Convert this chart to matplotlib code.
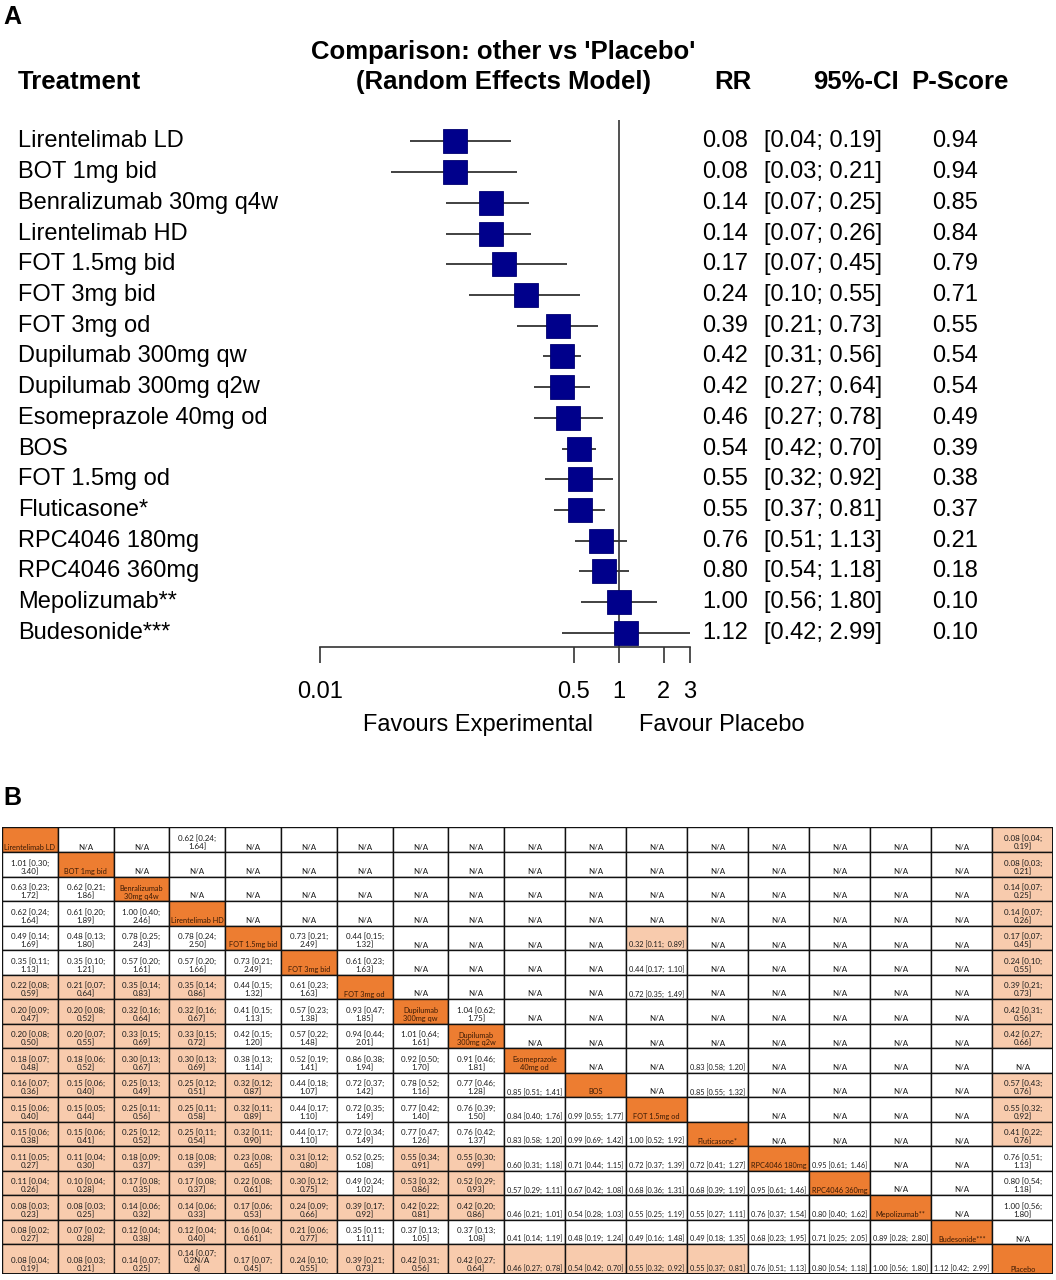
import numpy as np
import matplotlib.pyplot as plt
from matplotlib.patches import Rectangle
from matplotlib.transforms import blended_transform_factory

# ---- Panel A: forest plot vs placebo ----
treatments = ["Lirentelimab LD", "BOT 1mg bid", "Benralizumab 30mg q4w", "Lirentelimab HD",
              "FOT 1.5mg bid", "FOT 3mg bid", "FOT 3mg od", "Dupilumab 300mg qw",
              "Dupilumab 300mg q2w", "Esomeprazole 40mg od", "BOS", "FOT 1.5mg od",
              "Fluticasone*", "RPC4046 180mg", "RPC4046 360mg", "Mepolizumab**", "Budesonide***"]
rr = [0.08, 0.08, 0.14, 0.14, 0.17, 0.24, 0.39, 0.42, 0.42, 0.46, 0.54, 0.55, 0.55, 0.76, 0.80, 1.00, 1.12]
ci_low = [0.04, 0.03, 0.07, 0.07, 0.07, 0.10, 0.21, 0.31, 0.27, 0.27, 0.42, 0.32, 0.37, 0.51, 0.54, 0.56, 0.42]
ci_high = [0.19, 0.21, 0.25, 0.26, 0.45, 0.55, 0.73, 0.56, 0.64, 0.78, 0.70, 0.92, 0.81, 1.13, 1.18, 1.80, 2.99]
pscore = [0.94, 0.94, 0.85, 0.84, 0.79, 0.71, 0.55, 0.54, 0.54, 0.49, 0.39, 0.38, 0.37, 0.21, 0.18, 0.10, 0.10]
axis_ticks = [0.01, 0.5, 1, 2, 3]
axis_labels = ["0.01", "0.5", "1", "2", "3"]

# ---- Panel B: league table ----
diag_labels = ["Lirentelimab LD", "BOT 1mg bid", "Benralizumab\n30mg q4w", "Lirentelimab HD",
               "FOT 1.5mg bid", "FOT 3mg bid", "FOT 3mg od", "Dupilumab\n300mg qw",
               "Dupilumab\n300mg q2w", "Esomeprazole\n40mg od", "BOS", "FOT 1.5mg od",
               "Fluticasone*", "RPC4046 180mg", "RPC4046 360mg", "Mepolizumab**",
               "Budesonide***", "Placebo"]
D = None
N = "N/A"
league = [
    [D, N, N, "0.62 [0.24; 1.64]"] + [N] * 13 + ["0.08 [0.04; 0.19]"],
    ["1.01 [0.30; 3.40]", D] + [N] * 15 + ["0.08 [0.03; 0.21]"],
    ["0.63 [0.23; 1.72]", "0.62 [0.21; 1.86]", D] + [N] * 14 + ["0.14 [0.07; 0.25]"],
    ["0.62 [0.24; 1.64]", "0.61 [0.20; 1.89]", "1.00 [0.40; 2.46]", D] + [N] * 13 + ["0.14 [0.07; 0.26]"],
    ["0.49 [0.14; 1.69]", "0.48 [0.13; 1.80]", "0.78 [0.25; 2.43]", "0.78 [0.24; 2.50]", D,
     "0.73 [0.21; 2.49]", "0.44 [0.15; 1.32]", N, N, N, N, "0.32 [0.11; 0.89]"] + [N] * 5 + ["0.17 [0.07; 0.45]"],
    ["0.35 [0.11; 1.13]", "0.35 [0.10; 1.21]", "0.57 [0.20; 1.61]", "0.57 [0.20; 1.66]", "0.73 [0.21; 2.49]", D,
     "0.61 [0.23; 1.63]", N, N, N, N, "0.44 [0.17; 1.10]"] + [N] * 5 + ["0.24 [0.10; 0.55]"],
    ["0.22 [0.08; 0.59]", "0.21 [0.07; 0.64]", "0.35 [0.14; 0.83]", "0.35 [0.14; 0.86]", "0.44 [0.15; 1.32]",
     "0.61 [0.23; 1.63]", D, N, N, N, N, "0.72 [0.35; 1.49]"] + [N] * 5 + ["0.39 [0.21; 0.73]"],
    ["0.20 [0.09; 0.47]", "0.20 [0.08; 0.52]", "0.32 [0.16; 0.64]", "0.32 [0.16; 0.67]", "0.41 [0.15; 1.13]",
     "0.57 [0.23; 1.38]", "0.93 [0.47; 1.85]", D, "1.04 [0.62; 1.75]"] + [N] * 8 + ["0.42 [0.31; 0.56]"],
    ["0.20 [0.08; 0.50]", "0.20 [0.07; 0.55]", "0.33 [0.15; 0.69]", "0.33 [0.15; 0.72]", "0.42 [0.15; 1.20]",
     "0.57 [0.22; 1.48]", "0.94 [0.44; 2.01]", "1.01 [0.64; 1.61]", D] + [N] * 8 + ["0.42 [0.27; 0.66]"],
    ["0.18 [0.07; 0.48]", "0.18 [0.06; 0.52]", "0.30 [0.13; 0.67]", "0.30 [0.13; 0.69]", "0.38 [0.13; 1.14]",
     "0.52 [0.19; 1.41]", "0.86 [0.38; 1.94]", "0.92 [0.50; 1.70]", "0.91 [0.46; 1.81]", D, N, N,
     "0.83 [0.58; 1.20]", N, N, N, N, N],
    ["0.16 [0.07; 0.36]", "0.15 [0.06; 0.40]", "0.25 [0.13; 0.49]", "0.25 [0.12; 0.51]", "0.32 [0.12; 0.87]",
     "0.44 [0.18; 1.07]", "0.72 [0.37; 1.42]", "0.78 [0.52; 1.16]", "0.77 [0.46; 1.28]", "0.85 [0.51; 1.41]", D, N,
     "0.85 [0.55; 1.32]", N, N, N, N, "0.57 [0.43; 0.76]"],
    ["0.15 [0.06; 0.40]", "0.15 [0.05; 0.44]", "0.25 [0.11; 0.56]", "0.25 [0.11; 0.58]", "0.32 [0.11; 0.89]",
     "0.44 [0.17; 1.10]", "0.72 [0.35; 1.49]", "0.77 [0.42; 1.40]", "0.76 [0.39; 1.50]", "0.84 [0.40; 1.76]",
     "0.99 [0.55; 1.77]", D, "", N, N, N, N, "0.55 [0.32; 0.92]"],
    ["0.15 [0.06; 0.38]", "0.15 [0.06; 0.41]", "0.25 [0.12; 0.52]", "0.25 [0.11; 0.54]", "0.32 [0.11; 0.90]",
     "0.44 [0.17; 1.10]", "0.72 [0.34; 1.49]", "0.77 [0.47; 1.26]", "0.76 [0.42; 1.37]", "0.83 [0.58; 1.20]",
     "0.99 [0.69; 1.42]", "1.00 [0.52; 1.92]", D, N, N, N, N, "0.41 [0.22; 0.76]"],
    ["0.11 [0.05; 0.27]", "0.11 [0.04; 0.30]", "0.18 [0.09; 0.37]", "0.18 [0.08; 0.39]", "0.23 [0.08; 0.65]",
     "0.31 [0.12; 0.80]", "0.52 [0.25; 1.08]", "0.55 [0.34; 0.91]", "0.55 [0.30; 0.99]", "0.60 [0.31; 1.18]",
     "0.71 [0.44; 1.15]", "0.72 [0.37; 1.39]", "0.72 [0.41; 1.27]", D, "0.95 [0.61; 1.46]", N, N, "0.76 [0.51; 1.13]"],
    ["0.11 [0.04; 0.26]", "0.10 [0.04; 0.28]", "0.17 [0.08; 0.35]", "0.17 [0.08; 0.37]", "0.22 [0.08; 0.61]",
     "0.30 [0.12; 0.75]", "0.49 [0.24; 1.02]", "0.53 [0.32; 0.86]", "0.52 [0.29; 0.93]", "0.57 [0.29; 1.11]",
     "0.67 [0.42; 1.08]", "0.68 [0.36; 1.31]", "0.68 [0.39; 1.19]", "0.95 [0.61; 1.46]", D, N, N, "0.80 [0.54; 1.18]"],
    ["0.08 [0.03; 0.23]", "0.08 [0.03; 0.25]", "0.14 [0.06; 0.32]", "0.14 [0.06; 0.33]", "0.17 [0.06; 0.53]",
     "0.24 [0.09; 0.66]", "0.39 [0.17; 0.92]", "0.42 [0.22; 0.81]", "0.42 [0.20; 0.86]", "0.46 [0.21; 1.01]",
     "0.54 [0.28; 1.03]", "0.55 [0.25; 1.19]", "0.55 [0.27; 1.11]", "0.76 [0.37; 1.54]", "0.80 [0.40; 1.62]", D, N,
     "1.00 [0.56; 1.80]"],
    ["0.08 [0.02; 0.27]", "0.07 [0.02; 0.28]", "0.12 [0.04; 0.38]", "0.12 [0.04; 0.40]", "0.16 [0.04; 0.61]",
     "0.21 [0.06; 0.77]", "0.35 [0.11; 1.11]", "0.37 [0.13; 1.05]", "0.37 [0.13; 1.08]", "0.41 [0.14; 1.19]",
     "0.48 [0.19; 1.24]", "0.49 [0.16; 1.48]", "0.49 [0.18; 1.35]", "0.68 [0.23; 1.95]", "0.71 [0.25; 2.05]",
     "0.89 [0.28; 2.80]", D, N],
    ["0.08 [0.04; 0.19]", "0.08 [0.03; 0.21]", "0.14 [0.07; 0.25]", "0.14 [0.07; 0.2N/A\n6]", "0.17 [0.07; 0.45]",
     "0.24 [0.10; 0.55]", "0.39 [0.21; 0.73]", "0.42 [0.31; 0.56]", "0.42 [0.27; 0.64]", "0.46 [0.27; 0.78]",
     "0.54 [0.42; 0.70]", "0.55 [0.32; 0.92]", "0.55 [0.37; 0.81]", "0.76 [0.51; 1.13]", "0.80 [0.54; 1.18]",
     "1.00 [0.56; 1.80]", "1.12 [0.42; 2.99]", D],
]
# significant comparisons (light shading), per row
sig = [[17], [17], [17], [17], [11, 17], [17],
       [0, 1, 2, 3, 17], [0, 1, 2, 3, 17], [0, 1, 2, 3, 17], [0, 1, 2, 3],
       [0, 1, 2, 3, 4, 17], [0, 1, 2, 3, 4, 17], [0, 1, 2, 3, 4, 17],
       [0, 1, 2, 3, 4, 5, 7, 8], [0, 1, 2, 3, 4, 5, 7, 8],
       list(range(9)), list(range(6)), list(range(13))]

W, H = 1056, 1280
fig = plt.figure(figsize=(W / 100, H / 100), dpi=100)
fig.patch.set_facecolor('white')

body = ['Liberation Sans', 'DejaVu Sans']

def fx(px):
    return px / W

def fy(py):
    return 1 - py / H

# ---------- A ----------
fig.text(fx(3), fy(5), "A", family=body, fontweight='bold', fontsize=18, va='top', ha='left')
hdr = dict(family=body, fontweight='bold', fontsize=18.5, va='center')
fig.text(fx(18), fy(82), "Treatment", ha='left', **hdr)
fig.text(fx(503), fy(52), "Comparison: other vs 'Placebo'", ha='center', **hdr)
fig.text(fx(503), fy(82), "(Random Effects Model)", ha='center', **hdr)
fig.text(fx(733), fy(82), "RR", ha='center', **hdr)
fig.text(fx(856), fy(82), "95%-CI", ha='center', **hdr)
fig.text(fx(960), fy(82), "P-Score", ha='center', **hdr)

ax = fig.add_axes([fx(320), fy(647), fx(690) - fx(320), fy(120) - fy(647)])
ax.set_xscale('log')
ax.set_xlim(0.01, 3)
n = len(treatments)
ax.set_ylim(n - 1 + 0.46, -0.7)
ypos = np.arange(n)
ax.axvline(1, color='#333333', lw=1.2, zorder=1)
ax.hlines(ypos, ci_low, ci_high, color='#333333', lw=1.3, zorder=2)
ax.plot(rr, ypos, 's', color='#00008B', markersize=17, markeredgecolor='#000070',
        markeredgewidth=0.6, zorder=3, linestyle='none')
for s in ['top', 'right', 'left']:
    ax.spines[s].set_visible(False)
ax.spines['bottom'].set_color('#333333')
ax.spines['bottom'].set_linewidth(1.2)
ax.set_yticks([])
ax.set_xticks(axis_ticks, axis_labels)
ax.minorticks_off()
ax.tick_params(axis='x', direction='out', length=11.5, width=1.2, color='#333333',
               pad=13, labelsize=17)
for lab in ax.get_xticklabels():
    lab.set_family(body)
ax.patch.set_alpha(0)

tr = blended_transform_factory(fig.transFigure, ax.transData)
for i in range(n):
    ax.text(fx(18), i, treatments[i], transform=tr, fontsize=17, family=body, va='center', ha='left')
    ax.text(fx(702), i, f"{rr[i]:.2f}", transform=tr, fontsize=17, family=body, va='center', ha='left')
    ax.text(fx(764), i, f"[{ci_low[i]:.2f}; {ci_high[i]:.2f}]", transform=tr, fontsize=17,
            family=body, va='center', ha='left')
    ax.text(fx(932), i, f"{pscore[i]:.2f}", transform=tr, fontsize=17, family=body, va='center', ha='left')

fig.text(fx(478), fy(725), "Favours Experimental", fontsize=17, family=body, ha='center', va='center')
fig.text(fx(722), fy(725), "Favour Placebo", fontsize=17, family=body, ha='center', va='center')

# ---------- B ----------
fig.text(fx(3), fy(786), "B", family=body, fontweight='bold', fontsize=18, va='top', ha='left')

ncol = len(diag_labels)
col_w = [55.8] * 9 + [61.0] * 9
row_h = [25.0] + [24.5] * 16 + [30.0]
x_edges = np.concatenate([[0], np.cumsum(col_w)])
y_edges = np.concatenate([[0], np.cumsum(row_h)])
tx0, ty0 = 2, 827
tb = fig.add_axes([fx(tx0), fy(ty0 + y_edges[-1]), fx(x_edges[-1]), y_edges[-1] / H])
tb.set_xlim(0, x_edges[-1])
tb.set_ylim(y_edges[-1], 0)
tb.axis('off')

DARK = '#ED7D31'
LIGHT = '#F8CBAD'
for r in range(ncol):
    for c in range(ncol):
        x0, x1 = x_edges[c], x_edges[c + 1]
        y0, y1 = y_edges[r], y_edges[r + 1]
        txt = league[r][c]
        size = 5.8
        if txt is None:
            face = DARK
            txt = diag_labels[r]
            tcol = '#3a1a05'
            size = 5.3
        else:
            face = LIGHT if c in sig[r] else 'white'
            tcol = '#1a1a1a'
            if (c < 9 or c == 17) and '; ' in txt:
                txt = txt.replace('; ', ';\n', 1)
            elif '; ' in txt:
                txt = txt.replace('; ', ';  ')
                size = 5.3
        tb.add_patch(Rectangle((x0, y0), x1 - x0, y1 - y0, facecolor=face,
                               edgecolor='#111111', linewidth=1.0))
        tb.text((x0 + x1) / 2, y1 - 1.5, txt, ha='center', va='bottom', multialignment='center',
                fontsize=size, family=['Lato', 'DejaVu Sans'], color=tcol, linespacing=1.1)
tb.add_patch(Rectangle((0, 0), x_edges[-1], y_edges[-1], facecolor='none',
                       edgecolor='#111111', linewidth=1.4))

fig.savefig("out.png", dpi=100)
